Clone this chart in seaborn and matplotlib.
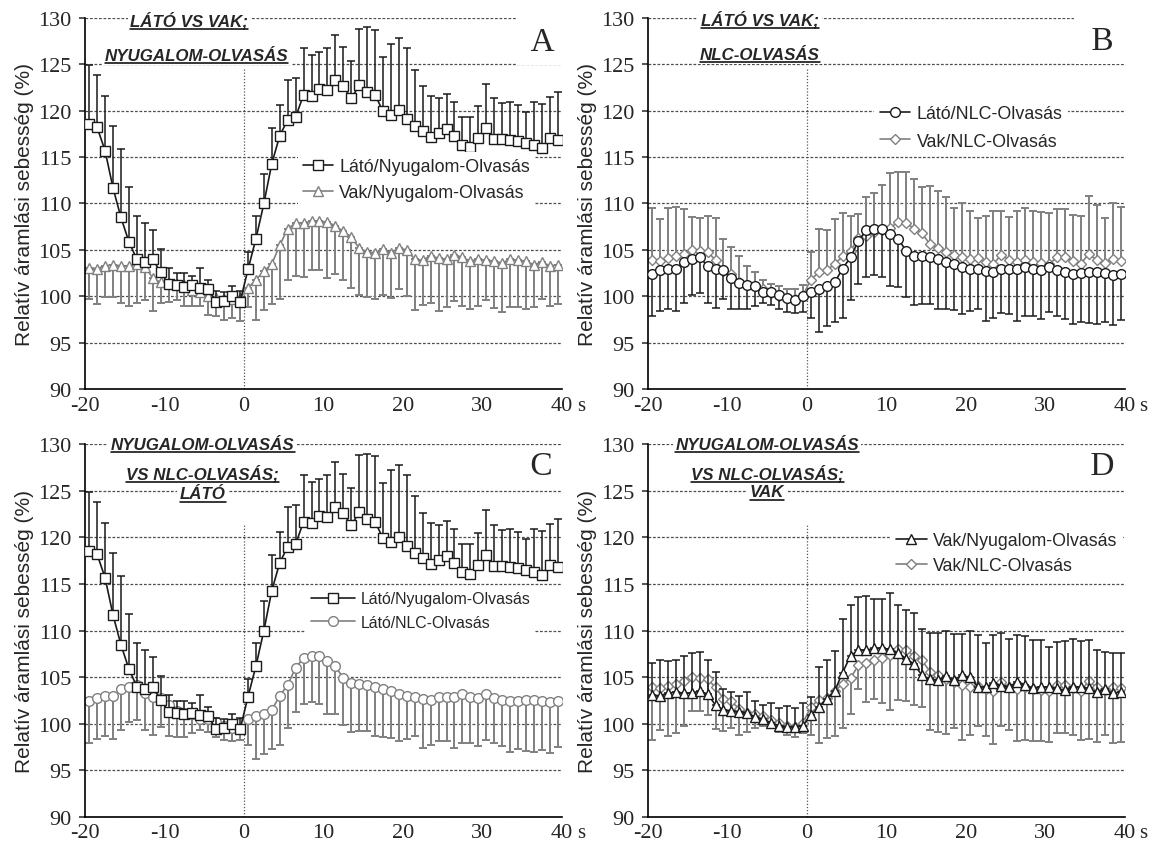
import numpy as np
import matplotlib
matplotlib.use('Agg')
import matplotlib.pyplot as plt
import seaborn as sns
from matplotlib.lines import Line2D
from matplotlib.transforms import offset_copy

# ido (s), 60 meres
ido = np.arange(-19.5, 40, 1.0)

lato_nyug = [118.5, 118.2, 115.7, 111.7, 108.5, 105.9, 104.0, 103.7, 104.0, 102.6,
             101.3, 101.2, 101.0, 101.2, 100.9, 100.8, 99.4, 99.5, 100.0, 99.4,
             102.9, 106.2, 110.0, 114.3, 117.3, 119.0, 119.3, 121.7, 121.6, 122.3,
             122.2, 123.3, 122.6, 121.3, 122.7, 122.0, 121.7, 119.9, 119.5, 120.1,
             119.1, 118.3, 117.8, 117.1, 117.6, 118.0, 117.3, 116.3, 116.1, 117.0,
             118.1, 116.9, 116.9, 116.8, 116.7, 116.5, 116.3, 116.0, 117.0, 116.8]
lato_nyug_sd = [6.4, 5.6, 5.9, 6.6, 7.4, 5.9, 4.7, 4.2, 3.2, 2.5,
                1.8, 1.3, 1.5, 1.0, 2.2, 1.0, 1.2, 1.0, 1.1, 1.2,
                1.9, 2.5, 3.2, 3.8, 3.3, 4.3, 4.2, 5.0, 4.4, 4.0,
                4.5, 4.8, 4.2, 4.0, 6.1, 7.0, 7.0, 5.9, 7.7, 7.7,
                7.6, 6.1, 4.8, 4.5, 3.7, 3.8, 3.6, 3.0, 3.2, 3.5,
                4.8, 4.4, 3.9, 4.1, 3.9, 3.3, 4.6, 4.7, 4.5, 5.2]

vak_nyug = [103.1, 103.0, 103.3, 103.4, 103.3, 103.3, 103.5, 103.2, 102.0, 101.5,
            101.4, 101.3, 101.2, 100.7, 100.5, 100.1, 99.8, 99.7, 99.7, 99.8,
            100.9, 101.8, 102.7, 103.5, 105.5, 107.3, 107.9, 107.9, 108.1, 108.1,
            108.0, 107.6, 107.0, 106.4, 105.2, 104.8, 104.7, 105.1, 104.7, 105.2,
            105.0, 104.0, 103.9, 104.4, 104.1, 104.0, 104.5, 104.2, 103.8, 104.0,
            103.9, 103.8, 103.6, 104.0, 103.9, 103.8, 103.4, 103.7, 103.3, 103.4]
vak_nyug_sd = [3.4, 3.8, 3.4, 3.5, 4.0, 4.3, 4.2, 3.6, 3.6, 2.2,
               2.0, 1.7, 2.2, 1.7, 1.5, 2.1, 1.9, 2.2, 2.0, 2.4,
               2.0, 4.3, 4.2, 4.3, 5.8, 5.5, 5.7, 5.8, 5.3, 5.3,
               6.0, 5.2, 5.2, 5.5, 5.0, 4.9, 5.0, 4.9, 4.9, 4.4,
               5.0, 5.5, 4.8, 5.1, 5.7, 5.1, 5.0, 5.2, 5.2, 5.0,
               4.3, 5.0, 5.3, 5.1, 5.0, 5.2, 4.5, 4.0, 4.3, 4.2]

lato_nlc = [102.4, 102.8, 103.0, 103.0, 103.7, 104.0, 104.2, 103.3, 102.9, 102.8,
            102.0, 101.4, 101.2, 101.1, 100.5, 100.5, 100.2, 99.8, 99.6, 100.1,
            100.5, 100.8, 101.1, 101.5, 103.0, 104.2, 106.0, 107.1, 107.3, 107.3,
            106.7, 106.2, 104.9, 104.4, 104.3, 104.2, 104.0, 103.7, 103.5, 103.2,
            103.0, 102.9, 102.7, 102.6, 102.9, 102.9, 102.9, 103.2, 102.9, 102.8,
            103.2, 102.8, 102.6, 102.4, 102.5, 102.6, 102.6, 102.5, 102.3, 102.4]
lato_nlc_sd = [4.5, 4.4, 4.3, 4.6, 4.4, 3.8, 3.8, 4.0, 4.1, 3.1,
               3.3, 2.8, 2.6, 2.1, 1.2, 1.4, 1.6, 1.5, 1.4, 1.8,
               2.8, 4.6, 4.3, 4.2, 5.3, 4.6, 4.7, 5.0, 5.0, 5.2,
               5.6, 5.2, 5.0, 5.3, 5.1, 5.0, 5.3, 5.1, 5.0, 5.1,
               4.6, 4.2, 5.3, 4.9, 4.7, 4.8, 5.5, 5.3, 5.0, 5.2,
               4.9, 4.9, 5.0, 5.4, 5.2, 5.5, 5.6, 5.3, 5.4, 4.9]

vak_nlc = [103.9, 103.8, 104.1, 104.3, 104.6, 105.0, 104.9, 104.8, 103.9, 102.7,
           102.4, 101.6, 101.2, 101.1, 100.8, 100.4, 100.1, 99.8, 99.7, 100.1,
           101.8, 102.6, 102.8, 103.5, 104.3, 104.9, 106.3, 106.5, 106.9, 107.1,
           107.4, 108.0, 107.9, 107.3, 106.8, 105.6, 105.2, 104.8, 104.5, 104.2,
           104.0, 104.1, 103.7, 103.5, 104.5, 103.9, 103.7, 103.9, 103.7, 103.6,
           103.5, 104.2, 104.2, 103.8, 103.5, 104.6, 103.9, 103.6, 104.0, 103.8]
vak_nlc_sd = [5.6, 4.5, 5.4, 5.3, 4.8, 3.6, 3.5, 3.9, 4.5, 3.5,
              2.9, 2.8, 2.1, 1.5, 1.0, 0.9, 1.0, 1.0, 1.1, 1.1,
              3.0, 4.7, 4.3, 4.8, 4.7, 3.8, 2.6, 4.2, 4.2, 4.9,
              5.9, 5.4, 5.5, 5.3, 5.0, 6.3, 6.1, 5.9, 5.0, 5.9,
              5.2, 4.3, 5.0, 5.7, 4.7, 4.6, 5.5, 5.6, 5.5, 5.5,
              5.5, 5.2, 5.2, 5.0, 5.2, 6.2, 5.9, 4.8, 6.1, 5.8]

sns.set_style('white')
plt.rcParams['font.family'] = ['Liberation Sans', 'DejaVu Sans']
plt.rcParams['axes.unicode_minus'] = False

FEKETE = '#1a1a1a'
SZURKE = '#808080'
SERIF = 'Liberation Serif'


def sorozat(ax, y, sd, felfele, szin, marker, ms, z):
    sd = np.array(sd)
    nulla = np.zeros(len(sd))
    yerr = [nulla, sd] if felfele else [sd, nulla]
    lw = 1.1 if szin == FEKETE else 1.4
    ax.errorbar(ido, y, yerr=yerr, fmt='none', ecolor=szin, elinewidth=lw,
                capsize=2.6, capthick=lw, zorder=z)
    sns.lineplot(x=ido, y=y, ax=ax, color=szin, linewidth=1.2, marker=marker,
                 markersize=ms, markerfacecolor='white', markeredgecolor=szin,
                 markeredgewidth=1.0, zorder=z + 0.5, legend=False)
    return ax.lines[-1]


panelek = [
    dict(pos=[0.074, 0.538, 0.414, 0.44],
         fekete=(lato_nyug, lato_nyug_sd, True, 's', 6.5, 'Látó/Nyugalom-Olvasás'),
         szurke=(vak_nyug, vak_nyug_sd, False, '^', 7, 'Vak/Nyugalom-Olvasás'),
         cim=[('LÁTÓ VS VAK;', -6.9, 129.2, 0.15), ('NYUGALOM-OLVASÁS', -6.0, 125.45, 0.15)],
         betu=(' A ', 37.6, 127.4, 0.25), vonal=124.5,
         leg=(6.8, 112.6, 12.9, 1.65, 0.5)),
    dict(pos=[0.563, 0.538, 0.414, 0.44],
         fekete=(lato_nlc, lato_nlc_sd, False, 'o', 7, 'Látó/NLC-Olvasás'),
         szurke=(vak_nlc, vak_nlc_sd, True, 'D', 5, 'Vak/NLC-Olvasás'),
         cim=[('LÁTÓ VS VAK;', -5.9, 129.3, 0.15), ('NLC-OLVASÁS', -5.9, 125.55, 0.15)],
         betu=(' B ', 37.2, 127.5, 0.25), vonal=124.5,
         leg=(8.5, 118.2, 12.9, 1.7, 0.6)),
    dict(pos=[0.074, 0.032, 0.414, 0.441],
         fekete=(lato_nyug, lato_nyug_sd, True, 's', 6.5, 'Látó/Nyugalom-Olvasás'),
         szurke=(lato_nlc, lato_nlc_sd, False, 'o', 7, 'Látó/NLC-Olvasás'),
         cim=[('NYUGALOM-OLVASÁS', -5.2, 129.55, 0.15), ('VS NLC-OLVASÁS;', -5.2, 126.3, 0.5),
              ('LÁTÓ', -5.2, 124.2, 0.15)],
         betu=(' C ', 37.5, 127.7, 0.13), vonal=121.5,
         leg=(7.8, 112.15, 11.4, 2.8, 0.56)),
    dict(pos=[0.563, 0.032, 0.414, 0.441],
         fekete=(vak_nyug, vak_nyug_sd, True, '^', 7, 'Vak/Nyugalom-Olvasás'),
         szurke=(vak_nlc, vak_nlc_sd, False, 'D', 5, 'Vak/NLC-Olvasás'),
         cim=[('NYUGALOM-OLVASÁS', -5.0, 129.55, 0.15), ('VS NLC-OLVASÁS;', -5.0, 126.3, 0.5),
              ('VAK', -5.0, 124.4, 0.15)],
         betu=(' D ', 37.2, 127.7, 0.13), vonal=121.5,
         leg=(10.6, 118.35, 12.8, 1.7, 0.45)),
]

fig = plt.figure(figsize=(11.51, 8.45), dpi=100)
cimek = []

for p in panelek:
    ax = fig.add_axes(p['pos'])
    y, sd, fel, mk, ms, lab_sz = p['szurke']
    h2 = sorozat(ax, y, sd, fel, SZURKE, mk, ms, 2)
    y, sd, fel, mk, ms, lab_f = p['fekete']
    h1 = sorozat(ax, y, sd, fel, FEKETE, mk, ms, 3)

    ax.set_xlim(-20, 40)
    ax.set_ylim(90, 130)
    ax.set_xticks(range(-20, 41, 10))
    ax.set_yticks(range(90, 131, 5))
    ax.set_axisbelow(True)
    ax.yaxis.grid(True, linestyle=(0, (2.2, 1.4)), color='#4d4d4d', linewidth=0.9)
    ax.xaxis.grid(False)
    ax.axvline(0, ymin=0, ymax=(p['vonal'] - 90) / 40, linestyle=(0, (1, 1.5)),
               color='#555555', linewidth=0.9, zorder=1)
    for s in ['top', 'right']:
        ax.spines[s].set_visible(False)
    for s in ['left', 'bottom']:
        ax.spines[s].set_color('black')
        ax.spines[s].set_linewidth(1.2)
    ax.tick_params(axis='y', direction='out', length=4, width=1.1, pad=6,
                   labelsize=16, labelfontfamily=SERIF, left=True)
    ax.tick_params(axis='x', length=0, pad=4.5, labelsize=16, labelfontfamily=SERIF)
    ax.set_xlabel('')
    ax.set_ylabel('Relatív áramlási sebesség (%)', fontsize=15, labelpad=3)

    trans = offset_copy(ax.get_xaxis_transform(), fig=fig, y=-4.5, units='points')
    ax.text(41.9, 0, 's', transform=trans, ha='left', va='top', fontsize=15, family=SERIF)

    for szoveg, x, yb, pad in p['cim']:
        t = ax.text(x, yb, szoveg, ha='center', va='baseline', fontsize=12.2,
                    fontweight='bold', fontstyle='italic', zorder=5,
                    bbox=dict(boxstyle='square,pad=%s' % pad, facecolor='white', edgecolor='none'))
        cimek.append(t)

    b, bx, by, bpad = p['betu']
    ax.text(bx, by, b, ha='center', va='center', fontsize=24, family=SERIF, zorder=5,
            bbox=dict(boxstyle='square,pad=%s' % bpad, facecolor='white', edgecolor='none'))

    lx, ly, lfs, lhl, lls = p['leg']
    ax.legend(handles=[h1, h2], labels=[lab_f, lab_sz], loc='center left',
              bbox_to_anchor=(lx, ly), bbox_transform=ax.transData, fontsize=lfs,
              handlelength=lhl, handletextpad=0.35, labelspacing=lls, borderpad=0.3,
              borderaxespad=0, frameon=True, facecolor='white', edgecolor='none',
              framealpha=1, fancybox=False, numpoints=1)

# alahuzas a cimek alatt
fig.canvas.draw()
renderer = fig.canvas.get_renderer()
W, H = fig.bbox.width, fig.bbox.height
for t in cimek:
    bb = t.get_window_extent(renderer)
    yy = (bb.y0 - 0.5) / H
    fig.add_artist(Line2D([bb.x0 / W, bb.x1 / W], [yy, yy], color='black', lw=1.1, zorder=10))

fig.savefig('out.png', dpi=100)
